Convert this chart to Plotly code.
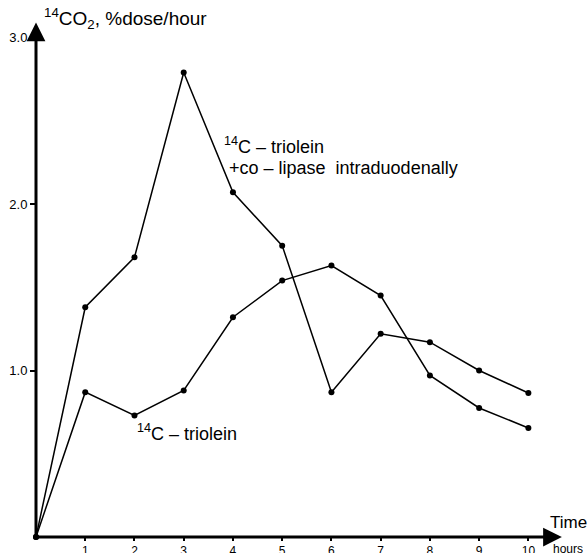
import plotly.graph_objects as go

hours = [0, 1, 2, 3, 4, 5, 6, 7, 8, 9, 10]
colipase = [0, 1.38, 1.68, 2.79, 2.07, 1.75, 0.87, 1.22, 1.17, 1.00, 0.865]
triolein = [0, 0.87, 0.73, 0.88, 1.32, 1.54, 1.63, 1.45, 0.97, 0.775, 0.655]
ytick_vals = [1.0, 2.0, 3.0]
ytick_text = ["1.0", "2.0", "3.0"]
xtick_vals = [1, 2, 3, 4, 5, 6, 7, 8, 9, 10]

FONT = "Liberation Sans, Arial, Helvetica, sans-serif"

fig = go.Figure()
for ys in (colipase, triolein):
    fig.add_trace(go.Scatter(
        x=hours, y=ys, mode="lines+markers",
        line=dict(color="black", width=1.5),
        marker=dict(color="black", size=6),
        showlegend=False, cliponaxis=False))

annotations = [
    # axis arrows
    dict(x=10.68, y=0, ax=0, ay=0, xref="x", yref="y", axref="x", ayref="y",
         text="", showarrow=True, arrowhead=2, arrowwidth=3, arrowsize=1.25,
         arrowcolor="black", standoff=0, startstandoff=0),
    dict(x=0, y=3.09, ax=0, ay=0, xref="x", yref="y", axref="x", ayref="y",
         text="", showarrow=True, arrowhead=2, arrowwidth=3, arrowsize=1.25,
         arrowcolor="black", standoff=0, startstandoff=0),
    dict(x=0.011, y=1.0, xref="paper", yref="paper", xanchor="left", yanchor="middle",
         text="<sup>14</sup>CO<sub>2</sub>, %dose/hour", showarrow=False,
         font=dict(size=19, color="black", family=FONT)),
    dict(x=(548 - 36) / 549, y=(537 - 522) / 519, xref="paper", yref="paper",
         xanchor="left", yanchor="middle",
         text="Time", showarrow=False, font=dict(size=17, color="black", family=FONT)),
    dict(x=(551 - 36) / 549, y=(537 - 549) / 519, xref="paper", yref="paper",
         xanchor="left", yanchor="middle",
         text="hours", showarrow=False, font=dict(size=12, color="black", family=FONT)),
    dict(x=2.01, y=0.63, xref="x", yref="y", xanchor="left", yanchor="middle",
         text="<sup>14</sup>C – triolein", showarrow=False,
         font=dict(size=18, color="black", family=FONT)),
    dict(x=3.78, y=2.35, xref="x", yref="y", xanchor="left", yanchor="middle",
         text="<sup>14</sup>C – triolein", showarrow=False,
         font=dict(size=18, color="black", family=FONT)),
    dict(x=3.88, y=2.215, xref="x", yref="y", xanchor="left", yanchor="middle",
         text="+co – lipase  intraduodenally", showarrow=False,
         font=dict(size=18, color="black", family=FONT)),
]

fig.update_layout(
    width=587, height=553,
    margin=dict(l=36, r=2, t=18, b=16, autoexpand=False),
    paper_bgcolor="white", plot_bgcolor="white",
    annotations=annotations,
    xaxis=dict(range=[0, 11.15], showgrid=False, zeroline=False, showline=False,
               tickvals=xtick_vals, ticks="outside", ticklen=3, tickwidth=1.5,
               tickcolor="black", tickfont=dict(size=12, color="black", family=FONT),
               fixedrange=True, automargin=False),
    yaxis=dict(range=[0, 519 / 166.5], showgrid=False, zeroline=False, showline=False,
               tickvals=ytick_vals, ticktext=ytick_text, ticks="outside", ticklen=5,
               tickwidth=1.5, tickcolor="black",
               tickfont=dict(size=13, color="black", family=FONT), fixedrange=True,
               automargin=False),
)

fig.write_html("out.html", config={"displayModeBar": False},
               post_script="document.body.style.margin='0';document.body.style.overflow='hidden';")
